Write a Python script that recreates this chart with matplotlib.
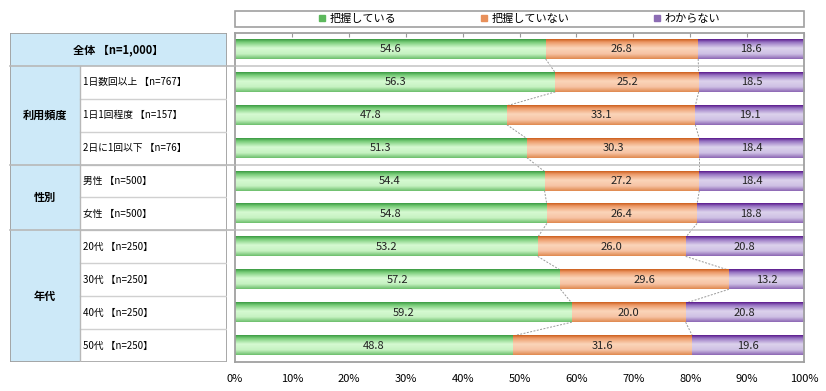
import numpy as np
import matplotlib
matplotlib.use("Agg")
import matplotlib.pyplot as plt
from matplotlib.colors import LinearSegmentedColormap
from matplotlib.patches import Rectangle

plt.rcParams['font.family'] = ['Noto Sans CJK JP', 'DejaVu Sans']

# データ
row_labels = ["全体 【n=1,000】", "1日数回以上 【n=767】", "1日1回程度 【n=157】",
              "2日に1回以下 【n=76】", "男性 【n=500】", "女性 【n=500】",
              "20代 【n=250】", "30代 【n=250】", "40代 【n=250】", "50代 【n=250】"]
groups = [("利用頻度", 1, 3), ("性別", 4, 5), ("年代", 6, 9)]
series_names = ["把握している", "把握していない", "わからない"]
haaku = [54.6, 56.3, 47.8, 51.3, 54.4, 54.8, 53.2, 57.2, 59.2, 48.8]
not_haaku = [26.8, 25.2, 33.1, 30.3, 27.2, 26.4, 26.0, 29.6, 20.0, 31.6]
wakaranai = [18.6, 18.5, 19.1, 18.4, 18.4, 18.8, 20.8, 13.2, 20.8, 19.6]
xticks = [0, 10, 20, 30, 40, 50, 60, 70, 80, 90, 100]

cmaps = [
    LinearSegmentedColormap.from_list("g", [(0, '#3a9a42'), (0.15, '#78cc78'), (0.45, '#d6fad2'), (0.75, '#c6f2c2'), (1, '#6cbf6c')]),
    LinearSegmentedColormap.from_list("o", [(0, '#cc5f1e'), (0.15, '#ec9a68'), (0.45, '#fbd5ba'), (0.75, '#f6c3a4'), (1, '#e0894f')]),
    LinearSegmentedColormap.from_list("p", [(0, '#5a1a8c'), (0.15, '#9774c2'), (0.45, '#dcd2ec'), (0.75, '#cec0e4'), (1, '#8c66b4')]),
]
legend_colors = ['#5cb85c', '#e8905a', '#8c6cb4']

fig = plt.figure(figsize=(8.26, 3.91), dpi=100)
ax = fig.add_axes([235/826, 1-362/391, 569/826, 329/391])
tax = fig.add_axes([10/826, 1-362/391, 217/826, 329/391])

n = len(row_labels)
y = np.arange(n)
h = 0.58
data = np.array([haaku, not_haaku, wakaranai])
cum = np.vstack([np.zeros(n), np.cumsum(data, axis=0)])
grad = np.linspace(0, 1, 64).reshape(-1, 1)

for s in range(3):
    for i in range(n):
        l, r = cum[s, i], cum[s + 1, i]
        ax.imshow(grad, cmap=cmaps[s], extent=(l, r, y[i] + h/2, y[i] - h/2),
                  aspect='auto', interpolation='bilinear', zorder=2)
        ax.text((l + r) / 2, y[i], f"{data[s, i]:.1f}", ha='center', va='center',
                fontsize=8, color='#222222', zorder=4)

# 系列線
for s in (1, 2):
    for i in range(n - 1):
        ax.plot([cum[s, i], cum[s, i + 1]], [y[i] + h/2, y[i + 1] - h/2],
                color='#999999', lw=0.7, ls=(0, (2, 1.5)), zorder=1)

# グループ区切り線
for g in [0.5, 3.5, 5.5]:
    ax.axhline(g, color='#c8c8c8', lw=1.2, zorder=1)

ax.set_xlim(0, 100)
ax.set_ylim(n - 0.5, -0.5)
ax.set_yticks([])
ax.set_xticks(xticks)
ax.set_xticklabels([f"{t}%" for t in xticks], fontsize=8)
ax.tick_params(axis='x', bottom=False, top=True, direction='in', length=3,
               color='#999999', pad=9, labelbottom=True, labeltop=False)
for sp in ax.spines.values():
    sp.set_color('#a0a0a0')
    sp.set_linewidth(1.3)

# 凡例
ax.add_patch(Rectangle((0, 1.018), 1, 0.049, transform=ax.transAxes, fill=False,
                       edgecolor='#a0a0a0', lw=1.2, clip_on=False))
handles = [Rectangle((0, 0), 1, 1, color=c) for c in legend_colors]
ax.legend(handles, series_names, loc='center', bbox_to_anchor=(0.5, 1.043), ncol=3,
          frameon=False, fontsize=8, handlelength=0.55, handleheight=0.55,
          handletextpad=0.4, columnspacing=7.6, borderaxespad=0)

# 表
tax.set_xlim(0, 1)
tax.set_ylim(n - 0.5, -0.5)
tax.axis('off')
div = 70 / 217
blue = '#cde9f8'
tax.add_patch(Rectangle((0, -0.5), 1, 1, facecolor=blue, edgecolor='none'))
tax.add_patch(Rectangle((0, 0.5), div, n - 1, facecolor=blue, edgecolor='none'))
tax.text(0.5, 0, row_labels[0], ha='center', va='center', fontsize=8, fontweight='bold')
for i in range(1, n):
    tax.text(div + 0.015, y[i], row_labels[i], ha='left', va='center', fontsize=7)
    tax.plot([div, 1], [i + 0.5, i + 0.5], color='#d0d0d0', lw=1)
for name, a, b in groups:
    tax.text(div / 2, (a + b) / 2, name, ha='center', va='center', fontsize=8, fontweight='bold')
    tax.plot([0, 1.037], [a - 0.5, a - 0.5], color='#b8b8b8', lw=1.2, clip_on=False)
tax.plot([div, div], [0.5, n - 0.5], color='#b8b8b8', lw=1)
tax.add_patch(Rectangle((0, -0.5), 1, n, fill=False, edgecolor='#a0a0a0', lw=1.3))

fig.savefig("out.png", dpi=100)
